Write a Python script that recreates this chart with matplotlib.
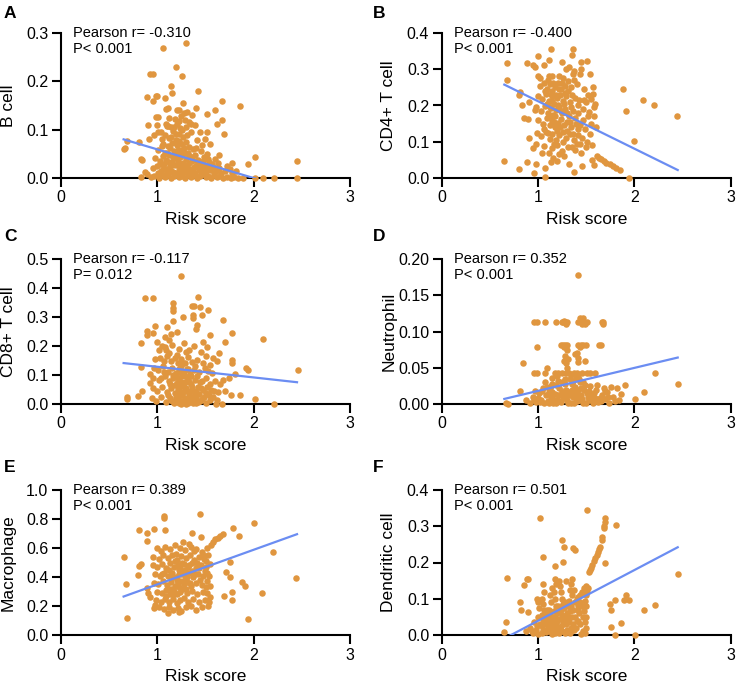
import numpy as np
import matplotlib
matplotlib.use('Agg')
import matplotlib.pyplot as plt
from matplotlib.ticker import FormatStrFormatter

plt.rcParams['font.family'] = ['Liberation Sans', 'DejaVu Sans']

# (risk score, infiltration) pairs, one list per panel
b_cell_pts = [
    (1.055, 0.270), (1.30, 0.279), (1.19, 0.229), (1.26, 0.212), (0.92, 0.215), (0.95, 0.215), (1.14, 0.191),
    (1.15, 0.175), (1.42, 0.179), (0.89, 0.168), (0.99, 0.170), (1.00, 0.169), (1.08, 0.166), (0.95, 0.160),
    (1.67, 0.160), (1.86, 0.148), (1.60, 0.140), (1.52, 0.133), (1.40, 0.144), (1.31, 0.137), (1.36, 0.130),
    (1.11, 0.145), (1.09, 0.143), (1.20, 0.141), (0.99, 0.126), (1.01, 0.126), (0.90, 0.110), (1.00, 0.110),
    (1.10, 0.108), (1.11, 0.108), (1.67, 0.119), (1.62, 0.111), (1.69, 0.092), (1.39, 0.110), (1.52, 0.095),
    (1.44, 0.096), (0.69, 0.076), (0.66, 0.063), (0.65, 0.061), (0.81, 0.075), (0.91, 0.081), (0.97, 0.089),
    (1.01, 0.096), (0.83, 0.039), (0.84, 0.037), (2.01, 0.043), (1.94, 0.028), (1.78, 0.032), (1.64, 0.048),
    (1.55, 0.070), (1.49, 0.081), (2.45, 0.036), (2.45, 0.0), (2.21, 0.0), (2.10, 0.0), (2.01, 0.0), (1.89, 0.0),
    (0.83, 0.003), (0.87, 0.013), (0.89, 0.008),
    (1.12, 0.125), (1.18, 0.122), (1.22, 0.118), (1.25, 0.128), (1.29, 0.121), (1.33, 0.115), (1.28, 0.135),
    (1.35, 0.112), (1.04, 0.095), (1.08, 0.088), (1.12, 0.082), (1.16, 0.098), (1.19, 0.078), (1.23, 0.090),
    (1.27, 0.085), (1.30, 0.074), (1.35, 0.095), (1.41, 0.078), (1.17, 0.105), (1.24, 0.104),
    (1.01, 0.058), (1.05, 0.066), (1.10, 0.052), (1.13, 0.062), (1.17, 0.055), (1.20, 0.068), (1.24, 0.058),
    (1.28, 0.063), (1.32, 0.051), (1.37, 0.060), (1.45, 0.055), (1.52, 0.050), (1.06, 0.070), (1.15, 0.072),
    (1.26, 0.071),
    (0.98, 0.042), (1.03, 0.035), (1.06, 0.045), (1.09, 0.038), (1.12, 0.047), (1.15, 0.033), (1.18, 0.041),
    (1.21, 0.036), (1.24, 0.044), (1.27, 0.032), (1.30, 0.040), (1.33, 0.046), (1.36, 0.035), (1.42, 0.038),
    (1.48, 0.043), (1.54, 0.034), (1.60, 0.040), (1.39, 0.048), (1.45, 0.031),
    (0.96, 0.020), (1.00, 0.025), (1.04, 0.015), (1.07, 0.028), (1.10, 0.018), (1.13, 0.024), (1.16, 0.012),
    (1.19, 0.027), (1.22, 0.017), (1.25, 0.022), (1.28, 0.013), (1.31, 0.026), (1.34, 0.019), (1.37, 0.014),
    (1.40, 0.024), (1.43, 0.016), (1.46, 0.021), (1.49, 0.012), (1.52, 0.025), (1.55, 0.017), (1.58, 0.022),
    (1.61, 0.014), (1.64, 0.020), (1.70, 0.015), (1.75, 0.018),
    (0.93, 0.002), (0.97, 0.005), (1.02, 0.001), (1.05, 0.007), (1.08, 0.003), (1.11, 0.006), (1.14, 0.001),
    (1.17, 0.004), (1.20, 0.008), (1.23, 0.002), (1.26, 0.005), (1.29, 0.001), (1.32, 0.007), (1.35, 0.003),
    (1.38, 0.006), (1.41, 0.001), (1.44, 0.004), (1.47, 0.008), (1.50, 0.002), (1.53, 0.005), (1.56, 0.001),
    (1.59, 0.006), (1.62, 0.002), (1.65, 0.004), (1.68, 0.001), (1.72, 0.003), (1.76, 0.000), (1.80, 0.002),
    (1.84, 0.001),
    (1.01, 0.010), (1.03, 0.028), (1.06, 0.018), (1.09, 0.009), (1.12, 0.033), (1.14, 0.015), (1.16, 0.026),
    (1.18, 0.010), (1.21, 0.048), (1.22, 0.029), (1.24, 0.011), (1.27, 0.024), (1.29, 0.052), (1.30, 0.016),
    (1.33, 0.030), (1.34, 0.009), (1.36, 0.044), (1.38, 0.022), (1.39, 0.011), (1.41, 0.035), (1.43, 0.027),
    (1.45, 0.009), (1.47, 0.036), (1.48, 0.025), (1.51, 0.015), (1.53, 0.040), (1.57, 0.028), (1.59, 0.010),
    (1.63, 0.030), (1.66, 0.010), (1.72, 0.025), (1.78, 0.010), (1.82, 0.015), (1.08, 0.052), (1.11, 0.066),
    (1.14, 0.085), (1.19, 0.092), (1.22, 0.076), (1.26, 0.100), (1.31, 0.088), (1.33, 0.065), (1.21, 0.058),
    (1.16, 0.044), (1.26, 0.048), (1.40, 0.062), (1.46, 0.068), (1.05, 0.080), (1.09, 0.112), (1.20, 0.112),
    (1.14, 0.105), (1.30, 0.105), (1.23, 0.140), (1.27, 0.155),
]

cd4_pts = [
    (1.13, 0.355), (1.36, 0.357), (1.35, 0.340), (0.68, 0.317), (1.00, 0.337), (0.89, 0.317), (0.95, 0.313),
    (0.97, 0.307), (1.06, 0.313), (1.11, 0.326), (1.25, 0.321), (1.29, 0.300), (1.45, 0.319), (1.51, 0.323),
    (1.45, 0.302), (1.37, 0.295), (1.32, 0.305), (0.68, 0.270), (1.00, 0.281), (1.02, 0.275), (1.11, 0.281),
    (1.14, 0.282), (1.22, 0.281), (1.26, 0.275), (1.37, 0.271), (1.36, 0.287), (1.44, 0.287), (1.54, 0.287),
    (1.88, 0.246), (2.09, 0.215), (2.20, 0.202), (2.44, 0.171), (1.91, 0.185), (2.00, 0.102), (0.65, 0.047),
    (0.80, 0.024), (0.89, 0.043), (0.96, 0.013), (0.98, 0.039), (1.07, 0.004), (1.07, 0.027), (1.13, 0.045),
    (1.20, 0.047), (1.32, 0.038), (1.37, 0.016), (1.46, 0.033), (1.56, 0.050), (1.58, 0.036), (1.61, 0.062),
    (1.63, 0.056), (1.65, 0.052), (1.68, 0.047), (1.71, 0.041), (1.75, 0.038), (1.78, 0.034), (1.81, 0.027),
    (1.85, 0.021), (1.94, 0.001), (0.81, 0.238), (0.80, 0.229), (0.83, 0.201), (0.85, 0.165), (0.90, 0.163),
    (0.91, 0.211), (0.97, 0.188), (0.91, 0.109), (0.95, 0.082), (1.11, 0.068), (1.16, 0.054),
    (1.02, 0.255), (1.06, 0.262), (1.09, 0.245), (1.12, 0.258), (1.15, 0.240), (1.18, 0.250), (1.21, 0.262),
    (1.24, 0.245), (1.28, 0.255), (1.31, 0.240), (1.34, 0.250), (1.40, 0.258), (1.48, 0.245), (1.52, 0.228),
    (1.57, 0.232),
    (1.00, 0.225), (1.04, 0.218), (1.08, 0.232), (1.11, 0.212), (1.14, 0.225), (1.17, 0.205), (1.20, 0.220),
    (1.23, 0.230), (1.26, 0.212), (1.29, 0.225), (1.33, 0.210), (1.38, 0.222), (1.43, 0.215), (1.50, 0.210),
    (1.55, 0.218), (1.59, 0.205),
    (0.98, 0.195), (1.03, 0.185), (1.07, 0.198), (1.10, 0.180), (1.13, 0.192), (1.16, 0.175), (1.19, 0.188),
    (1.22, 0.196), (1.25, 0.178), (1.28, 0.190), (1.32, 0.172), (1.36, 0.185), (1.42, 0.178), (1.47, 0.190),
    (1.53, 0.182), (1.58, 0.170),
    (1.00, 0.160), (1.05, 0.150), (1.09, 0.165), (1.12, 0.145), (1.15, 0.158), (1.18, 0.140), (1.21, 0.152),
    (1.24, 0.162), (1.27, 0.145), (1.30, 0.155), (1.34, 0.140), (1.39, 0.150), (1.44, 0.145), (1.49, 0.135),
    (1.55, 0.150), (1.60, 0.140),
    (0.99, 0.125), (1.03, 0.115), (1.08, 0.128), (1.12, 0.108), (1.15, 0.120), (1.19, 0.105), (1.22, 0.118),
    (1.26, 0.128), (1.29, 0.110), (1.33, 0.122), (1.37, 0.105), (1.41, 0.118), (1.46, 0.110), (1.51, 0.100),
    (1.56, 0.092),
    (0.98, 0.095), (1.06, 0.088), (1.14, 0.082), (1.20, 0.090), (1.25, 0.075), (1.31, 0.085), (1.38, 0.078),
    (1.45, 0.070), (1.50, 0.085), (1.27, 0.060), (1.40, 0.095), (1.17, 0.095),
    (1.07, 0.240), (1.10, 0.270), (1.13, 0.232), (1.16, 0.262), (1.19, 0.228), (1.22, 0.245), (1.25, 0.262),
    (1.28, 0.235), (1.31, 0.268), (1.35, 0.230), (1.09, 0.205), (1.12, 0.195), (1.15, 0.212), (1.18, 0.170),
    (1.21, 0.200), (1.24, 0.185), (1.27, 0.205), (1.30, 0.180), (1.34, 0.195), (1.38, 0.165), (1.06, 0.135),
    (1.10, 0.125), (1.13, 0.170), (1.17, 0.155), (1.20, 0.130), (1.23, 0.140), (1.26, 0.100), (1.30, 0.130),
    (1.33, 0.155), (1.36, 0.120), (1.42, 0.135), (1.47, 0.160), (1.52, 0.170), (1.54, 0.120), (1.58, 0.195),
    (1.44, 0.095), (1.35, 0.085), (1.22, 0.065), (1.04, 0.070), (1.48, 0.215), (1.41, 0.200), (1.57, 0.250),
]

cd8_pts = [
    (1.25, 0.441), (0.87, 0.366), (0.96, 0.366), (1.42, 0.368), (1.38, 0.339), (1.36, 0.339), (1.44, 0.333),
    (1.53, 0.324), (1.16, 0.348), (1.16, 0.331), (1.16, 0.319), (1.37, 0.308), (1.37, 0.296), (1.46, 0.306),
    (1.27, 0.299), (1.16, 0.285), (1.68, 0.291), (1.41, 0.274), (1.10, 0.266), (1.40, 0.257), (1.78, 0.244),
    (0.98, 0.270), (0.89, 0.253), (0.89, 0.237), (0.83, 0.211), (0.95, 0.245), (1.20, 0.249), (1.55, 0.238),
    (2.10, 0.225), (1.70, 0.215), (1.47, 0.215), (1.64, 0.176), (1.78, 0.152), (1.77, 0.140), (0.83, 0.129),
    (0.68, 0.023), (0.69, 0.018), (0.80, 0.027), (0.84, 0.046), (0.92, 0.071), (0.92, 0.103), (1.92, 0.123),
    (1.94, 0.116), (2.46, 0.116), (1.81, 0.105), (1.74, 0.091), (1.68, 0.082), (1.70, 0.046), (1.86, 0.032),
    (1.76, 0.031), (2.01, 0.018), (2.21, 0.0), (1.67, 0.0), (1.61, 0.0),
    (1.00, 0.215), (1.05, 0.200), (1.02, 0.185), (1.08, 0.195), (1.12, 0.175), (1.15, 0.205), (1.22, 0.190),
    (1.28, 0.212), (1.33, 0.185), (1.38, 0.200), (1.45, 0.180), (1.52, 0.195), (1.58, 0.160), (1.50, 0.165),
    (0.98, 0.155), (1.03, 0.160), (1.07, 0.150), (1.10, 0.165), (1.14, 0.148), (1.18, 0.158), (1.21, 0.142),
    (1.25, 0.155), (1.29, 0.140), (1.32, 0.162), (1.36, 0.145), (1.41, 0.152), (1.47, 0.140), (1.55, 0.135),
    (1.62, 0.150),
    (0.97, 0.125), (1.01, 0.118), (1.06, 0.130), (1.11, 0.112), (1.15, 0.125), (1.19, 0.108), (1.22, 0.120),
    (1.25, 0.130), (1.28, 0.110), (1.31, 0.122), (1.34, 0.105), (1.38, 0.118), (1.43, 0.110), (1.49, 0.125),
    (1.57, 0.108),
    (0.96, 0.090), (1.02, 0.082), (1.08, 0.095), (1.12, 0.078), (1.16, 0.090), (1.20, 0.072), (1.23, 0.088),
    (1.26, 0.095), (1.29, 0.075), (1.32, 0.085), (1.35, 0.070), (1.39, 0.082), (1.44, 0.075), (1.50, 0.088),
    (1.55, 0.070), (1.60, 0.080),
    (0.95, 0.055), (1.00, 0.045), (1.05, 0.060), (1.10, 0.040), (1.14, 0.055), (1.18, 0.038), (1.21, 0.052),
    (1.24, 0.062), (1.27, 0.042), (1.30, 0.055), (1.33, 0.035), (1.36, 0.050), (1.40, 0.040), (1.45, 0.055),
    (1.50, 0.038), (1.56, 0.048), (1.63, 0.042),
    (0.94, 0.020), (0.99, 0.012), (1.04, 0.025), (1.09, 0.008), (1.13, 0.020), (1.17, 0.005), (1.20, 0.018),
    (1.23, 0.028), (1.26, 0.010), (1.29, 0.022), (1.32, 0.004), (1.35, 0.016), (1.38, 0.026), (1.42, 0.008),
    (1.46, 0.018), (1.51, 0.005), (1.55, 0.015), (1.58, 0.025), (1.25, 0.001), (1.30, 0.000), (1.40, 0.002),
    (1.11, 0.030), (1.13, 0.070), (1.15, 0.010), (1.16, 0.100), (1.18, 0.065), (1.19, 0.025), (1.21, 0.090),
    (1.22, 0.005), (1.23, 0.045), (1.24, 0.110), (1.25, 0.075), (1.26, 0.030), (1.27, 0.140), (1.28, 0.060),
    (1.29, 0.095), (1.30, 0.015), (1.31, 0.045), (1.32, 0.120), (1.33, 0.075), (1.34, 0.025), (1.35, 0.095),
    (1.36, 0.060), (1.37, 0.005), (1.38, 0.045), (1.39, 0.130), (1.40, 0.020), (1.41, 0.095), (1.42, 0.060),
    (1.43, 0.035), (1.44, 0.010), (1.46, 0.080), (1.47, 0.050), (1.48, 0.025), (1.52, 0.060), (1.53, 0.115),
    (1.54, 0.030), (1.59, 0.045), (1.62, 0.015), (1.65, 0.070), (1.07, 0.110), (1.04, 0.090), (1.09, 0.185),
    (1.12, 0.220), (1.20, 0.170), (1.30, 0.180), (1.14, 0.240), (1.08, 0.230),
]

neutrophil_pts = [
    (0.96, 0.113), (0.99, 0.113), (1.07, 0.113), (1.19, 0.113), (1.25, 0.113), (1.26, 0.113), (1.28, 0.113),
    (1.30, 0.113), (1.42, 0.113), (1.45, 0.113), (1.46, 0.113), (1.48, 0.113), (1.51, 0.113), (1.66, 0.113),
    (1.67, 0.113), (1.44, 0.118), (1.47, 0.118), (1.46, 0.110), (1.49, 0.110), (1.67, 0.110), (1.27, 0.115),
    (1.29, 0.111),
    (1.24, 0.081), (1.26, 0.081), (1.28, 0.081), (1.30, 0.081), (1.42, 0.081), (1.45, 0.081), (1.47, 0.081),
    (1.50, 0.081), (1.63, 0.081), (1.65, 0.081), (1.27, 0.078), (1.44, 0.079), (0.99, 0.079),
    (1.30, 0.074), (1.38, 0.069), (1.49, 0.059), (1.28, 0.066), (0.84, 0.057), (1.09, 0.050), (1.29, 0.056),
    (1.31, 0.062), (1.30, 0.050), (1.41, 0.064), (1.42, 0.058), (1.40, 0.070), (1.27, 0.060),
    (0.96, 0.043), (0.99, 0.043), (1.07, 0.043), (1.18, 0.043), (1.21, 0.043), (1.25, 0.043), (1.29, 0.043),
    (1.32, 0.043), (1.37, 0.043), (1.40, 0.043), (1.46, 0.043), (1.51, 0.043), (1.54, 0.043), (1.59, 0.043),
    (2.21, 0.043),
    (2.45, 0.028), (2.10, 0.016), (2.01, 0.007), (0.81, 0.018), (0.67, 0.001), (0.69, 0.0), (1.42, 0.178),
    (0.88, 0.005), (0.92, 0.002), (0.95, 0.010), (0.98, 0.003), (1.01, 0.015), (1.03, 0.006), (1.06, 0.001),
    (1.08, 0.012), (1.10, 0.004), (1.12, 0.020), (1.14, 0.008), (1.16, 0.002), (1.18, 0.014), (1.20, 0.006),
    (1.22, 0.022), (1.24, 0.003), (1.26, 0.011), (1.28, 0.028), (1.30, 0.005), (1.32, 0.017), (1.34, 0.001),
    (1.36, 0.009), (1.38, 0.024), (1.40, 0.004), (1.42, 0.013), (1.44, 0.030), (1.46, 0.007), (1.48, 0.019),
    (1.50, 0.002), (1.52, 0.010), (1.54, 0.025), (1.56, 0.006), (1.58, 0.015), (1.62, 0.003), (1.66, 0.012),
    (1.70, 0.007), (1.74, 0.002), (1.78, 0.010), (1.82, 0.022), (1.86, 0.014), (1.90, 0.026), (1.76, 0.024),
    (1.68, 0.022), (1.60, 0.020),
    (1.05, 0.022), (1.15, 0.028), (1.21, 0.032), (1.33, 0.034), (1.39, 0.036), (1.47, 0.030), (1.13, 0.025),
    (1.25, 0.018), (1.00, 0.008), (1.11, 0.016), (1.29, 0.012), (1.35, 0.020), (1.43, 0.005), (1.53, 0.018),
    (1.19, 0.001), (1.07, 0.030), (0.97, 0.018), (1.57, 0.001), (1.64, 0.008), (1.72, 0.016), (1.80, 0.004),
    (1.45, 0.022), (1.37, 0.001), (1.23, 0.012),
    (0.96, 0.006), (1.02, 0.003), (1.04, 0.018), (1.09, 0.024), (1.11, 0.002), (1.13, 0.010), (1.15, 0.016),
    (1.17, 0.006), (1.19, 0.026), (1.21, 0.012), (1.23, 0.004), (1.25, 0.030), (1.27, 0.008), (1.29, 0.020),
    (1.31, 0.002), (1.33, 0.012), (1.35, 0.028), (1.37, 0.016), (1.39, 0.008), (1.41, 0.020), (1.43, 0.034),
    (1.45, 0.012), (1.47, 0.002), (1.49, 0.026), (1.51, 0.015), (1.53, 0.005), (1.55, 0.012), (1.59, 0.008),
    (1.61, 0.026), (1.65, 0.004), (1.69, 0.018), (1.73, 0.010), (1.84, 0.006), (1.20, 0.038), (1.28, 0.035),
    (1.36, 0.032), (1.42, 0.040), (1.34, 0.040), (1.15, 0.036),
]

macrophage_pts = [
    (1.07, 0.821), (1.07, 0.805), (1.44, 0.832), (2.00, 0.772), (0.81, 0.724), (0.97, 0.731), (1.08, 0.724),
    (0.89, 0.701), (0.89, 0.651), (1.79, 0.738), (1.85, 0.685), (1.36, 0.701), (1.45, 0.678), (1.56, 0.621),
    (1.58, 0.644), (1.60, 0.660), (1.63, 0.671), (1.65, 0.685), (1.68, 0.699), (2.20, 0.570), (2.44, 0.395),
    (0.65, 0.536), (0.67, 0.349), (0.69, 0.117), (1.94, 0.108), (2.09, 0.292), (1.88, 0.363), (1.91, 0.340),
    (1.77, 0.294), (1.78, 0.239), (1.69, 0.269), (1.75, 0.402), (1.71, 0.437), (1.75, 0.501), (0.81, 0.478),
    (0.83, 0.487), (0.80, 0.414), (0.89, 0.322), (0.90, 0.287), (0.92, 0.264), (0.97, 0.184), (0.98, 0.207),
    (1.00, 0.600), (1.04, 0.580), (1.08, 0.610), (1.13, 0.590), (1.18, 0.620), (1.24, 0.600), (1.29, 0.585),
    (1.35, 0.610), (1.40, 0.590), (1.46, 0.575), (1.52, 0.600),
    (0.96, 0.540), (1.02, 0.525), (1.06, 0.550), (1.11, 0.530), (1.15, 0.555), (1.20, 0.520), (1.25, 0.545),
    (1.30, 0.530), (1.34, 0.555), (1.38, 0.520), (1.43, 0.540), (1.48, 0.525), (1.53, 0.550),
    (0.95, 0.480), (1.00, 0.470), (1.05, 0.490), (1.09, 0.465), (1.13, 0.495), (1.17, 0.470), (1.21, 0.485),
    (1.24, 0.460), (1.28, 0.490), (1.32, 0.470), (1.36, 0.495), (1.40, 0.465), (1.45, 0.480), (1.50, 0.470),
    (1.55, 0.490),
    (0.98, 0.420), (1.03, 0.410), (1.07, 0.430), (1.11, 0.405), (1.15, 0.425), (1.19, 0.400), (1.22, 0.420),
    (1.26, 0.435), (1.29, 0.410), (1.33, 0.425), (1.37, 0.400), (1.42, 0.420), (1.47, 0.405), (1.52, 0.430),
    (0.97, 0.360), (1.01, 0.350), (1.06, 0.370), (1.10, 0.345), (1.14, 0.365), (1.18, 0.340), (1.21, 0.360),
    (1.24, 0.375), (1.28, 0.350), (1.31, 0.365), (1.35, 0.340), (1.40, 0.360), (1.46, 0.345), (1.52, 0.370),
    (1.55, 0.340),
    (1.00, 0.300), (1.05, 0.290), (1.09, 0.310), (1.13, 0.285), (1.17, 0.305), (1.20, 0.280), (1.24, 0.300),
    (1.27, 0.315), (1.31, 0.290), (1.36, 0.305), (1.41, 0.285), (1.47, 0.300), (1.52, 0.290),
    (0.99, 0.240), (1.04, 0.230), (1.08, 0.250), (1.12, 0.225), (1.16, 0.245), (1.20, 0.220), (1.24, 0.240),
    (1.28, 0.255), (1.32, 0.230), (1.37, 0.245), (1.43, 0.225), (1.49, 0.240), (1.54, 0.230),
    (1.02, 0.190), (1.07, 0.180), (1.12, 0.195), (1.16, 0.170), (1.21, 0.185), (1.25, 0.165), (1.30, 0.190),
    (1.35, 0.200), (1.40, 0.175), (1.46, 0.190), (1.11, 0.155), (1.23, 0.160),
    (1.12, 0.450), (1.16, 0.400), (1.18, 0.510), (1.20, 0.380), (1.22, 0.450), (1.23, 0.330), (1.25, 0.420),
    (1.26, 0.500), (1.27, 0.370), (1.29, 0.450), (1.30, 0.320), (1.31, 0.400), (1.33, 0.480), (1.34, 0.360),
    (1.36, 0.440), (1.38, 0.580), (1.39, 0.420), (1.41, 0.500), (1.43, 0.460), (1.44, 0.380), (1.47, 0.550),
    (1.49, 0.440), (1.51, 0.510), (1.54, 0.410), (1.55, 0.260), (1.53, 0.200), (1.50, 0.330), (1.17, 0.280),
    (1.14, 0.320), (1.09, 0.270), (1.05, 0.420), (1.19, 0.560), (1.27, 0.640), (1.33, 0.630),
]

dendritic_pts = [
    (1.51, 0.345), (1.02, 0.322), (1.69, 0.322), (1.69, 0.313), (1.68, 0.302), (1.68, 0.294), (1.81, 0.304),
    (1.66, 0.269), (1.66, 0.262), (1.64, 0.244), (1.63, 0.237), (1.62, 0.230), (1.61, 0.221), (1.59, 0.212),
    (1.58, 0.204), (1.56, 0.193), (1.55, 0.186), (1.54, 0.179), (1.53, 0.173), (1.25, 0.262), (1.27, 0.244),
    (1.36, 0.239), (1.38, 0.235), (1.05, 0.216), (1.18, 0.189), (1.26, 0.202), (0.68, 0.156), (0.89, 0.155),
    (0.90, 0.155), (0.85, 0.138), (1.80, 0.097), (1.91, 0.109), (1.94, 0.096), (1.89, 0.097), (2.10, 0.069),
    (2.21, 0.083), (2.45, 0.167), (1.75, 0.085), (1.76, 0.069), (1.86, 0.033), (1.76, 0.022), (0.67, 0.037),
    (0.65, 0.007), (2.01, 0.0), (1.80, 0.0), (0.81, 0.092), (0.82, 0.069), (0.90, 0.064), (1.70, 0.198),
    (1.04, 0.005), (1.05, 0.015), (1.04, 0.025), (1.06, 0.035), (1.05, 0.045), (1.04, 0.055), (1.06, 0.070),
    (1.05, 0.085), (1.04, 0.100), (1.06, 0.120), (1.05, 0.140),
    (1.12, 0.010), (1.11, 0.025), (1.13, 0.040), (1.12, 0.055), (1.11, 0.070), (1.13, 0.090), (1.12, 0.110),
    (1.18, 0.005), (1.17, 0.020), (1.19, 0.035), (1.18, 0.050), (1.17, 0.065), (1.19, 0.080), (1.18, 0.100),
    (1.17, 0.120), (1.19, 0.140), (1.18, 0.155),
    (1.25, 0.010), (1.24, 0.025), (1.26, 0.040), (1.25, 0.055), (1.24, 0.070), (1.26, 0.085), (1.25, 0.100),
    (1.24, 0.120),
    (1.33, 0.005), (1.34, 0.020), (1.32, 0.035), (1.35, 0.050), (1.33, 0.065), (1.34, 0.080), (1.32, 0.095),
    (1.35, 0.110), (1.33, 0.125), (1.34, 0.140), (1.35, 0.155),
    (1.38, 0.090), (1.40, 0.100), (1.42, 0.105), (1.44, 0.110), (1.46, 0.120), (1.48, 0.130), (1.50, 0.135),
    (1.49, 0.005), (1.50, 0.020), (1.49, 0.035), (1.50, 0.050), (1.48, 0.065), (1.50, 0.080), (1.49, 0.095),
    (1.50, 0.110),
    (0.88, 0.010), (0.92, 0.020), (0.95, 0.005), (0.98, 0.015), (1.00, 0.002), (1.02, 0.030), (1.08, 0.008),
    (1.09, 0.040), (1.10, 0.020), (1.14, 0.003), (1.15, 0.030), (1.21, 0.010), (1.22, 0.045), (1.28, 0.005),
    (1.29, 0.030), (1.30, 0.060), (1.37, 0.015), (1.40, 0.040), (1.43, 0.060), (1.45, 0.002), (1.46, 0.080),
    (1.41, 0.070), (1.20, 0.060), (1.00, 0.050), (0.96, 0.035), (1.27, 0.075), (1.31, 0.045),
    (1.00, 0.090), (0.99, 0.100), (1.01, 0.075), (1.15, 0.130), (1.22, 0.150), (1.29, 0.150), (1.37, 0.125),
    (1.23, 0.135),
    (1.06, 0.010), (1.07, 0.030), (1.08, 0.060), (1.10, 0.050), (1.14, 0.050), (1.16, 0.010), (1.19, 0.025),
    (1.20, 0.040), (1.21, 0.080), (1.23, 0.020), (1.26, 0.030), (1.27, 0.050), (1.28, 0.090), (1.30, 0.015),
    (1.31, 0.080), (1.32, 0.050), (1.36, 0.030), (1.36, 0.070), (1.38, 0.050), (1.39, 0.020), (1.41, 0.040),
    (1.42, 0.080), (1.44, 0.030), (1.44, 0.090), (1.47, 0.010), (1.47, 0.050), (1.51, 0.120), (1.52, 0.130),
    (1.13, 0.020), (1.09, 0.070), (1.22, 0.005), (0.94, 0.010), (0.99, 0.025),
]

# fitted line (slope, intercept)
fits = [(-0.0593, 0.1185), (-0.1309, 0.3427), (-0.0367, 0.165),
        (0.0317, -0.0136), (0.2389, 0.110), (0.1399, -0.1007)]

panels = ['A', 'B', 'C', 'D', 'E', 'F']
ylabels = ['B cell', 'CD4+ T cell', 'CD8+ T cell', 'Neutrophil', 'Macrophage', 'Dendritic cell']
r_text = ['Pearson r= -0.310', 'Pearson r= -0.400', 'Pearson r= -0.117',
          'Pearson r= 0.352', 'Pearson r= 0.389', 'Pearson r= 0.501']
p_text = ['P< 0.001', 'P< 0.001', 'P= 0.012', 'P< 0.001', 'P< 0.001', 'P< 0.001']
ymax = [0.3, 0.4, 0.5, 0.2, 1.0, 0.4]
ystep = [0.1, 0.1, 0.1, 0.05, 0.2, 0.1]
yfmt = ['%.1f', '%.1f', '%.1f', '%.2f', '%.1f', '%.1f']
all_pts = [b_cell_pts, cd4_pts, cd8_pts, neutrophil_pts, macrophage_pts, dendritic_pts]

dot_color = '#E0963F'
line_color = '#6B8DF2'

W, H = 736, 683
fig = plt.figure(figsize=(W / 100, H / 100), dpi=100)

lefts = [61, 441.7]
tops = [33, 259, 490]
aw, ah = 289, 145

for i in range(6):
    row, col = divmod(i, 2)
    left = lefts[col]
    top = tops[row]
    ax = fig.add_axes([left / W, (H - top - ah) / H, aw / W, ah / H])

    pts = np.array(all_pts[i])
    ax.scatter(pts[:, 0], pts[:, 1], s=22, color=dot_color, linewidths=0,
               zorder=4, clip_on=False)

    slope, icpt = fits[i]
    xs = np.array([0.65, 2.45])
    ax.plot(xs, slope * xs + icpt, color=line_color, lw=1.6, zorder=5)

    ax.set_xlim(0, 3)
    ax.set_ylim(0, ymax[i])
    ax.set_xticks([0, 1, 2, 3])
    ax.set_yticks(np.arange(0, ymax[i] + 1e-9, ystep[i]))
    ax.yaxis.set_major_formatter(FormatStrFormatter(yfmt[i]))

    for s in ['top', 'right']:
        ax.spines[s].set_visible(False)
    for s in ['left', 'bottom']:
        ax.spines[s].set_linewidth(1.5)
        ax.spines[s].set_zorder(3)
    ax.tick_params(axis='both', direction='out', length=6.5, width=1.5,
                   labelsize=11.5, pad=2.5)

    ax.set_xlabel('Risk score', fontsize=12.5)
    ax.xaxis.set_label_coords(0.5, -0.235)
    ax.set_ylabel(ylabels[i], fontsize=12.5)
    ax.yaxis.set_label_coords(-0.157, 0.5)

    ax.text(0.042, 0.972, r_text[i], transform=ax.transAxes, fontsize=10.5,
            va='baseline', ha='left')
    ax.text(0.042, 0.862, p_text[i], transform=ax.transAxes, fontsize=10.5,
            va='baseline', ha='left')

    lx = 4 if col == 0 else 373
    ly = [6, 229, 460][row]
    fig.text(lx / W, 1 - ly / H, panels[i], fontsize=12.5, fontweight='bold',
             va='top', ha='left')

fig.savefig('out.png', dpi=100)
